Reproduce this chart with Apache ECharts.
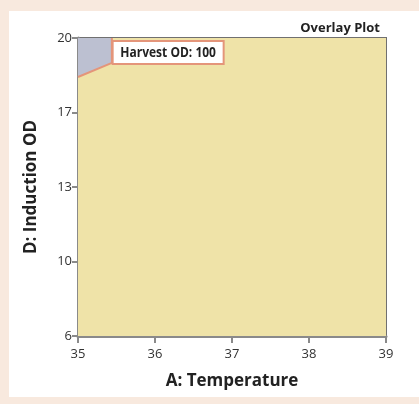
<!DOCTYPE html>
<html><head><meta charset="utf-8">
<script src="https://cdn.jsdelivr.net/npm/echarts@6/dist/echarts.min.js"></script>
<style>html,body{margin:0;padding:0;background:#F8E9DE;}#c{width:419px;height:404px;}</style>
</head><body><div id="c"></div>
<script>
const xTicks = [35, 36, 37, 38, 39];
const yTickLabels = ['6', '10', '13', '17', '20'];
const fullRegion = [[35, 6], [39, 6], [39, 20], [35, 20]];
const grayRegion = [[35, 20], [35, 18.17], [35.44, 18.83], [35.44, 20]];
const contourLine = [[35, 18.17], [35.44, 18.83], [35.44, 20]];
const flagPoint = [35.45, 20];
const flagText = 'Harvest OD: 100';

const chart = echarts.init(document.getElementById('c'));
const FONT = '"Open Sans","Noto Sans",sans-serif';
function polySeries(points, color, z) {
  return {
    type: 'custom', coordinateSystem: 'cartesian2d', z: z, silent: true,
    data: [0],
    renderItem: function (params, api) {
      return { type: 'polygon', shape: { points: points.map(p => api.coord(p)) }, style: { fill: color } };
    }
  };
}
chart.setOption({
  animation: false,
  backgroundColor: '#F8E9DE',
  graphic: [{ type: 'rect', shape: { x: 9, y: 11, width: 410, height: 386 }, style: { fill: '#ffffff' }, z: -10 }],
  title: { text: 'Overlay Plot', right: 34, top: 17, textStyle: { fontSize: 13, fontWeight: 'bold', color: '#222', fontFamily: FONT } },
  grid: { left: 78, right: 33, top: 38, bottom: 68, show: true, borderColor: '#707070', borderWidth: 2, backgroundColor: 'transparent' },
  xAxis: {
    type: 'value', min: 35, max: 39, interval: 1,
    name: 'A: Temperature', nameLocation: 'middle', nameGap: 37,
    nameTextStyle: { fontSize: 17, fontWeight: 'bold', color: '#222', fontFamily: FONT },
    axisLine: { lineStyle: { color: '#8a8a8a', width: 3 } },
    axisTick: { show: true, length: 7, lineStyle: { color: '#8a8a8a', width: 2 } },
    axisLabel: { fontSize: 13, color: '#333', margin: 12, fontFamily: FONT },
    splitLine: { show: false }
  },
  yAxis: {
    type: 'value', min: 6, max: 20, interval: 3.5,
    name: 'D: Induction OD', nameLocation: 'middle', nameGap: 38,
    nameTextStyle: { fontSize: 17, fontWeight: 'bold', color: '#222', fontFamily: FONT },
    axisLine: { lineStyle: { color: '#8a8a8a', width: 3 } },
    axisTick: { show: true, length: 6, lineStyle: { color: '#8a8a8a', width: 2 } },
    axisLabel: { fontSize: 13, color: '#333', margin: 6, fontFamily: FONT,
      formatter: function (v) { const i = Math.round((v - 6) / 3.5); return yTickLabels[i] || ''; } },
    splitLine: { show: false }
  },
  series: [
    polySeries(fullRegion, '#EFE3A8', 1),
    polySeries(grayRegion, '#BCC0D1', 2),
    {
      type: 'line', data: contourLine, z: 3, symbol: 'none', silent: true,
      lineStyle: { color: '#E4957A', width: 2 }
    },
    {
      type: 'custom', coordinateSystem: 'cartesian2d', z: 5, silent: true, data: [flagPoint],
      renderItem: function (params, api) {
        const p = api.coord([api.value(0), api.value(1)]);
        return {
          type: 'group', children: [
            { type: 'rect', shape: { x: p[0], y: p[1] + 3, width: 111, height: 23 }, style: { fill: '#fff', stroke: '#E4957A', lineWidth: 2 } },
            { type: 'text', x: p[0] + 55.5, y: p[1] + 15, scaleX: 0.8,
              style: { x: 0, y: 0, text: flagText, align: 'center', verticalAlign: 'middle', fontSize: 15, fontWeight: 'bold', fill: '#222', fontFamily: FONT } }
          ]
        };
      }
    }
  ]
});
</script></body></html>
